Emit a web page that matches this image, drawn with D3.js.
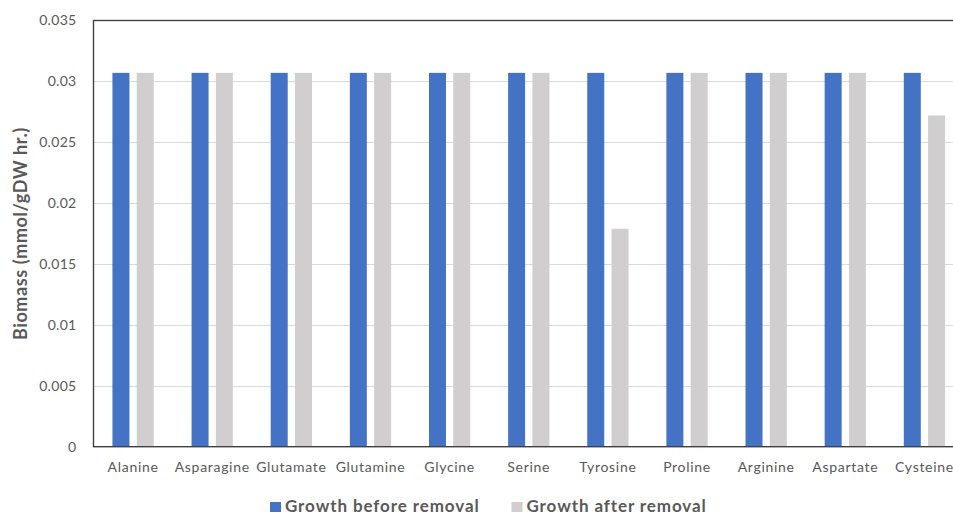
<!DOCTYPE html>
<html>
<head>
<meta charset="utf-8">
<script src="https://cdn.jsdelivr.net/npm/d3@7"></script>
<style>
html,body{margin:0;padding:0;background:#fff;}
svg{display:block;}
</style>
</head>
<body>
<script>
const categories = ["Alanine","Asparagine","Glutamate","Glutamine","Glycine","Serine","Tyrosine","Proline","Arginine","Aspartate","Cysteine"];
const growthBefore = [0.0307,0.0307,0.0307,0.0307,0.0307,0.0307,0.0307,0.0307,0.0307,0.0307,0.0307];
const growthAfter  = [0.0307,0.0307,0.0307,0.0307,0.0307,0.0307,0.0179,0.0307,0.0307,0.0307,0.0272];
const seriesNames = ["Growth before removal","Growth after removal"];
const yTicks = [0,0.005,0.01,0.015,0.02,0.025,0.03,0.035];

const W = 953, H = 514;
const m = {left:93.5, top:20.5, right:-11, bottom:67.5};
const x0 = m.left, x1 = W - m.right, yTop = m.top, yBot = H - m.bottom + 0.2;
const colors = ["#4472C4","#D0CECE"];
const font = "Lato, 'Open Sans', sans-serif";

const svg = d3.select("body").append("svg").attr("width",W).attr("height",H);

const x = d3.scaleBand().domain(categories).range([x0, x1]).paddingInner(0).paddingOuter(0);
const xs = d3.scaleBand().domain([0,1]).range([0, x.bandwidth()]).paddingInner(0.3).paddingOuter(0.78);
const y = d3.scaleLinear().domain([0,0.035]).range([yBot, yTop]);

// gridlines
svg.append("g").selectAll("line").data(yTicks.filter(d=>d>0 && d<0.035)).join("line")
  .attr("x1",x0).attr("x2",x1).attr("y1",d=>Math.round(y(d))+0.5).attr("y2",d=>Math.round(y(d))+0.5)
  .attr("stroke","#D9D9D9").attr("stroke-width",1);

// bars
const data = categories.map((c,i)=>({c, v:[growthBefore[i], growthAfter[i]]}));
const g = svg.append("g").selectAll("g").data(data).join("g").attr("transform",d=>`translate(${x(d.c)},0)`);
g.selectAll("rect").data(d=>d.v.map((v,k)=>({v,k}))).join("rect")
  .attr("x",d=>xs(d.k)).attr("width",xs.bandwidth())
  .attr("y",d=>y(d.v)).attr("height",d=>yBot-y(d.v))
  .attr("fill",d=>colors[d.k]);

// frame
svg.append("rect").attr("x",x0).attr("y",yTop).attr("width",x1-x0).attr("height",yBot-yTop)
  .attr("fill","none").attr("stroke","#404040").attr("stroke-width",1.4);

// y axis labels
const yAxis = d3.axisLeft(y).tickValues(yTicks).tickSize(0).tickPadding(17)
  .tickFormat(d=> d===0 ? "0" : String(+d.toFixed(3)));
const ya = svg.append("g").attr("transform",`translate(${x0},0)`).call(yAxis);
ya.select(".domain").remove();
ya.selectAll("text").attr("font-family",font).attr("font-size",14).attr("letter-spacing",0.3).attr("fill","#595959");

// x axis labels
const xAxis = d3.axisBottom(x).tickSize(0).tickPadding(15);
const xa = svg.append("g").attr("transform",`translate(0,${yBot})`).call(xAxis);
xa.select(".domain").remove();
xa.selectAll("text").attr("font-family",font).attr("font-size",14).attr("letter-spacing",0.7).attr("fill","#595959");

// y title
svg.append("text").attr("transform",`translate(27,${(yTop+yBot)/2}) rotate(-90)`)
  .attr("text-anchor","middle").attr("font-family",font).attr("font-size",18).attr("font-weight","bold")
  .attr("letter-spacing",0.6).attr("fill","#595959").text("Biomass (mmol/gDW hr.)");

// legend
const legX = [270, 511.5];
const lg = svg.append("g").selectAll("g").data(seriesNames).join("g")
  .attr("transform",(d,i)=>`translate(${legX[i]},0)`);
lg.append("rect").attr("x",0).attr("y",502).attr("width",11).attr("height",10).attr("fill",(d,i)=>colors[i]);
lg.append("text").attr("x",15).attr("y",511.5)
  .attr("font-family",font).attr("font-size",17).attr("font-weight","bold").attr("letter-spacing",0.9)
  .attr("fill","#595959").text(d=>d);
</script>
</body>
</html>
